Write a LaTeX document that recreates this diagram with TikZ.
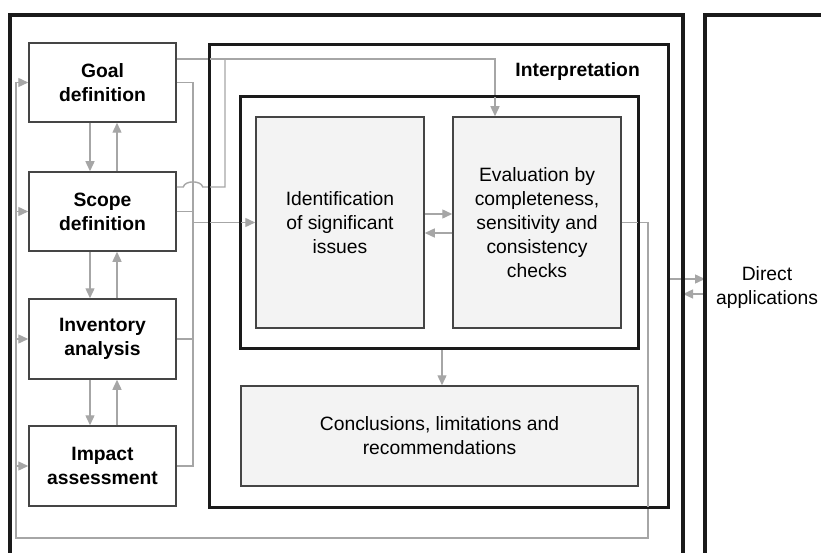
\documentclass[tikz,border=0pt]{standalone}
\usepackage{fontspec}
\setmainfont{Liberation Sans}
\usetikzlibrary{arrows.meta}
\definecolor{cgray}{HTML}{A6A6A6}
\definecolor{cdark}{HTML}{454545}
\definecolor{cfill}{HTML}{F3F3F3}
\definecolor{cframe}{HTML}{1A1A1A}
\newcommand{\fsz}{\fontsize{19.3}{24}\selectfont}
\tikzset{
  conn/.style={draw=cgray, line width=1.4pt},
  arr/.style={conn, -{Triangle[length=10pt,width=9pt]}},
  lbox/.style={draw=cdark, line width=1.5pt, fill=white, minimum width=147pt,
    minimum height=79pt, align=center, inner sep=0pt, font={\fsz\bfseries}},
  gbox/.style={draw=cdark, line width=1.5pt, fill=cfill, align=center, inner sep=0pt, font=\fsz},
  bigframe/.style={draw=cframe, line width=2.4pt},
  outframe/.style={draw=cframe, line width=3.2pt},
  plain/.style={align=center, inner sep=0pt, font=\fsz},
}
\begin{document}
\begin{tikzpicture}[x=1pt, y=-1pt]
\useasboundingbox (0,0) rectangle (821,553);
\clip (0,0) rectangle (821,553);

% left boxes
\node[lbox] (goal)  at (102.5,82.5) {Goal\\definition};
\node[lbox] (scope) at (102.5,211.5) {Scope\\definition};
\node[lbox, minimum height=80pt] (inv) at (102.5,339) {Inventory\\analysis};
\node[lbox, minimum height=80pt] (imp) at (102.5,466) {Impact\\assessment};

% interpretation grey boxes
\node[gbox, minimum width=168pt, minimum height=211pt] (ident) at (340,222.5) {Identification\\of significant\\issues};
\node[gbox, minimum width=168pt, minimum height=211pt] (eval) at (537,222.5) {Evaluation by\\completeness,\\sensitivity and\\consistency\\checks};
\node[gbox, minimum width=397pt, minimum height=100pt] (concl) at (439.5,436) {Conclusions, limitations and\\recommendations};

% frames as nodes (no fill)
\node[bigframe, minimum width=458pt, minimum height=462pt, inner sep=0pt] (interp) at (439,276) {};
\node[bigframe, line width=2.2pt, minimum width=397pt, minimum height=251pt, inner sep=0pt] (inner) at (439.5,222.5) {};

\node[plain, anchor=east, font={\fsz\bfseries}] (interplabel) at (640,72) {Interpretation};
\node[plain] (direct) at (767,288) {Direct\\applications};

% helper coordinates
\coordinate (colx) at (193,0);
\coordinate (tl) at ([yshift=23.5pt]goal.east);
\coordinate (evtop) at ([xshift=-42pt]eval.north);
\coordinate (hopL) at (183.3,187);
\coordinate (hopR) at (202.7,187);
\coordinate (jx) at (225,187);
\coordinate (loopx) at (648,538);
\coordinate (loopl) at (16,538);
\coordinate (dl) at (705,0);
\coordinate (fr) at (683,0);
\coordinate (dret) at (705,294);

% connectors
\begin{scope}[on background layer/.style={}]
\draw[arr] (tl) -| (evtop);
\draw[conn] ([yshift=24.5pt]scope.east) -- (hopL) .. controls (184.8,180.2) and (201.2,180.2) .. (hopR) -- (jx) -- (jx |- tl);
\draw[conn] (goal.east) -- (goal.east -| colx) -- (imp.east -| colx) -- (imp.east);
\draw[conn] (scope.east) -- (scope.east -| colx);
\draw[conn] (inv.east) -- (inv.east -| colx);
\draw[arr] (ident.west -| colx) -- (ident.west);

\draw[arr] ([xshift=-12.5pt]goal.south) -- ([xshift=-12.5pt]scope.north);
\draw[arr] ([xshift=14.5pt]scope.north) -- ([xshift=14.5pt]goal.south);
\draw[arr] ([xshift=-12.5pt]scope.south) -- ([xshift=-12.5pt]inv.north);
\draw[arr] ([xshift=14.5pt]inv.north) -- ([xshift=14.5pt]scope.south);
\draw[arr] ([xshift=-12.5pt]inv.south) -- ([xshift=-12.5pt]imp.north);
\draw[arr] ([xshift=14.5pt]imp.north) -- ([xshift=14.5pt]inv.south);

\draw[arr] ([yshift=8.5pt]ident.east) -- ([yshift=8.5pt]eval.west);
\draw[arr] ([yshift=-10.5pt]eval.west) -- ([yshift=-10.5pt]ident.east);
\draw[arr] ([xshift=2.5pt]inner.south) -- ([xshift=2.5pt]concl.north);

\draw[conn] (eval.east) -| (loopx) -| (loopl |- goal.west);
\draw[arr] (loopl |- goal.west) -- (goal.west);
\draw[arr] (loopl |- scope.west) -- (scope.west);
\draw[arr] (loopl |- inv.west) -- (inv.west);
\draw[arr] (loopl |- imp.west) -- (imp.west);

\draw[arr] ([yshift=-3pt]interp.east) -- ([yshift=-3pt]interp.east -| dl);
\draw[arr] (dret) -- (dret -| fr);
\end{scope}

% redraw frames on top
\draw[bigframe] (interp.north west) rectangle (interp.south east);
\draw[bigframe, line width=2.2pt] (inner.north west) rectangle (inner.south east);
\draw[outframe] (10,560) -- (10,15) -- (683,15) -- (683,560);
\draw[outframe] (705,560) -- (705,15) -- (830,15);
\end{tikzpicture}
\end{document}
